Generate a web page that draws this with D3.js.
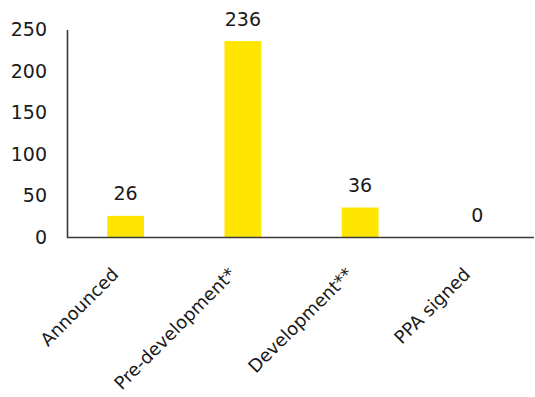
<!DOCTYPE html>
<html>
<head>
<meta charset="utf-8">
<script src="https://cdn.jsdelivr.net/npm/d3@7"></script>
<style>
  html, body { margin: 0; padding: 0; background: #fff; }
  svg { display: block; }
</style>
</head>
<body>
<svg id="chart" width="535" height="397"></svg>
<script>
const categories = ["Announced", "Pre-development*", "Development**", "PPA signed"];
const values = [26, 236, 36, 0];
const yTicks = [0, 50, 100, 150, 200, 250];

(function () {
const W = 535, H = 397;
const mLeft = 67, mRight = 536, mTop = 29.4, mBottom = 237.5;
const font = "'DejaVu Sans', Verdana, sans-serif";
const axisColor = "#3a3a3a";
const barColor = "#FFE600";

const svg = d3.select("#chart");

const x = d3.scaleBand().domain(categories).range([mLeft, mRight]).paddingInner(0.686).paddingOuter(0.343);
const y = d3.scaleLinear().domain([0, 250]).range([mBottom, mTop]);

// Y axis
const yAxis = svg.append("g")
  .attr("transform", `translate(${mLeft},0)`)
  .call(d3.axisLeft(y).tickValues(yTicks).tickSize(0).tickPadding(20));
yAxis.select(".domain").attr("stroke", axisColor).attr("stroke-width", 1.6);
yAxis.selectAll("text")
  .attr("font-family", font).attr("font-size", 19).attr("fill", "#1a1a1a");

// Bars
svg.append("g").selectAll("rect")
  .data(categories)
  .join("rect")
  .attr("x", d => x(d))
  .attr("width", x.bandwidth())
  .attr("y", (d, i) => y(values[i]))
  .attr("height", (d, i) => mBottom - y(values[i]))
  .attr("fill", barColor);

// Value labels
svg.append("g").selectAll("text")
  .data(categories)
  .join("text")
  .attr("x", d => x(d) + x.bandwidth() / 2)
  .attr("y", (d, i) => y(values[i]) - 15.5)
  .attr("text-anchor", "middle")
  .attr("font-family", font)
  .attr("font-size", 19)
  .attr("fill", "#1a1a1a")
  .text((d, i) => values[i]);

// X axis
const xAxis = svg.append("g")
  .attr("transform", `translate(0,${mBottom})`)
  .call(d3.axisBottom(x).tickSize(0).tickPadding(0));
xAxis.select(".domain").attr("stroke", axisColor).attr("stroke-width", 1.6)
  .attr("d", `M${mLeft},0H${W - 1}`);
xAxis.selectAll(".tick text")
  .attr("font-family", font)
  .attr("font-size", 18)
  .attr("fill", "#1a1a1a")
  .attr("text-anchor", "end")
  .attr("x", 0).attr("y", 0).attr("dy", 0)
  .attr("transform", "translate(-6,38) rotate(-45)");
})();
</script>
</body>
</html>
